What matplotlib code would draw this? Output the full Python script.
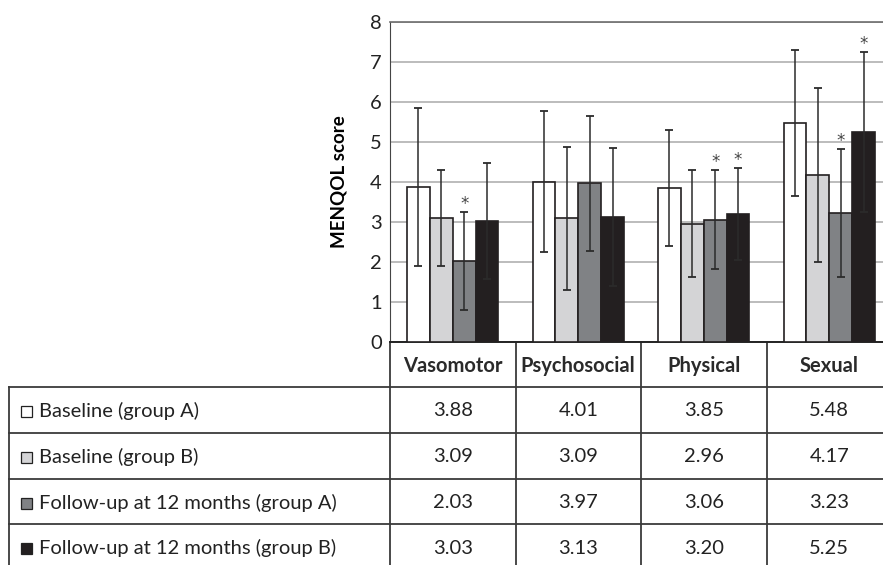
import numpy as np
import matplotlib.pyplot as plt
from matplotlib.patches import Rectangle
from matplotlib.lines import Line2D

plt.rcParams['font.family'] = ['Lato', 'DejaVu Sans']

categories = ["Vasomotor", "Psychosocial", "Physical", "Sexual"]
series_labels = ["Baseline (group A)", "Baseline (group B)",
                 "Follow-up at 12 months (group A)", "Follow-up at 12 months (group B)"]
base_a = [3.88, 4.01, 3.85, 5.48]
base_b = [3.09, 3.09, 2.96, 4.17]
follow_a = [2.03, 3.97, 3.06, 3.23]
follow_b = [3.03, 3.13, 3.20, 5.25]
err_base_a = [1.98, 1.76, 1.44, 1.83]
err_base_b = [1.20, 1.79, 1.34, 2.17]
err_follow_a = [1.22, 1.69, 1.24, 1.60]
err_follow_b = [1.45, 1.72, 1.15, 2.00]
# asterisk flags (significant change)
star_follow_a = [True, False, True, True]
star_follow_b = [False, False, True, True]

values = [base_a, base_b, follow_a, follow_b]
errors = [err_base_a, err_base_b, err_follow_a, err_follow_b]
stars = [None, None, star_follow_a, star_follow_b]
colors = ["#ffffff", "#d4d4d6", "#808285", "#231f20"]
edge = "#231f20"

W, H = 883, 565
fig = plt.figure(figsize=(W / 100, H / 100), dpi=100)

# pixel layout
ax_left, ax_right = 390, 892
ax_top, ax_bottom = 22, 342
ax = fig.add_axes([ax_left / W, 1 - ax_bottom / H,
                   (ax_right - ax_left) / W, (ax_bottom - ax_top) / H])

x = np.arange(len(categories))
bw = 0.182
offsets = (np.arange(4) - 1.5) * bw
for k in range(4):
    ax.bar(x + offsets[k], values[k], bw, color=colors[k], edgecolor=edge,
           linewidth=1.2, zorder=3)
    ax.errorbar(x + offsets[k], values[k], yerr=errors[k], fmt="none",
                ecolor="#2b2b2b", elinewidth=1.1, capsize=3, capthick=1.3, zorder=4)
    if stars[k] is not None:
        for i, s in enumerate(stars[k]):
            if s:
                ax.text(x[i] + offsets[k], values[k][i] + errors[k][i] + 0.2, "*",
                        ha="center", va="center", fontsize=12, color="#444444",
                        family="DejaVu Sans")

ax.set_xlim(-0.5, 3.5)
ax.set_ylim(0, 8)
ax.set_yticks(range(9))
ax.tick_params(axis="y", length=0, labelsize=14.5, labelcolor="#222222", pad=6)
ax.set_xticks([])
ax.yaxis.grid(True, color="#b0b0b0", linewidth=1.2, zorder=0)
ax.set_axisbelow(True)
ax.spines["right"].set_visible(False)
ax.spines["top"].set_color("#6d6d6d")
ax.spines["top"].set_linewidth(1.2)
ax.spines["left"].set_color("#444444")
ax.spines["bottom"].set_color("#222222")
ax.spines["bottom"].set_linewidth(1.4)
ax.set_ylabel("MENQOL score", fontsize=13.5, fontweight="bold", labelpad=16)

# table drawn on an overlay axes in pixel coordinates
tab = fig.add_axes([0, 0, 1, 1], zorder=-1)
tab.set_xlim(0, W)
tab.set_ylim(H, 0)
tab.axis("off")

col_w = 125.5
row_tops = [387, 433, 479, 524, 570]
lc = "#3a3a3a"
for i in range(len(categories) + 1):
    xv = ax_left + i * col_w
    tab.add_line(Line2D([xv, xv], [ax_bottom, H], color=lc, lw=1.3))
tab.add_line(Line2D([9, 9], [row_tops[0], H], color=lc, lw=1.3))
for yv in row_tops[:-1]:
    tab.add_line(Line2D([9, W], [yv, yv], color=lc, lw=1.3))

# header
for i, c in enumerate(categories):
    tab.text(ax_left + (i + 0.5) * col_w, (ax_bottom + row_tops[0]) / 2 + 2, c,
             ha="center", va="center", fontsize=14.5, fontweight="bold", color="#2a2a2a")

# rows
for k in range(4):
    yc = (row_tops[k] + row_tops[k + 1]) / 2 + 1
    tab.add_patch(Rectangle((21, yc - 5), 11, 11, facecolor=colors[k],
                            edgecolor="#222222", lw=0.9))
    tab.text(39, yc, series_labels[k], ha="left", va="center", fontsize=14.5,
             color="#222222")
    for i in range(len(categories)):
        tab.text(ax_left + (i + 0.5) * col_w, yc, "%.2f" % values[k][i],
                 ha="center", va="center", fontsize=14.5, color="#222222")

fig.savefig("out.png", dpi=100)
